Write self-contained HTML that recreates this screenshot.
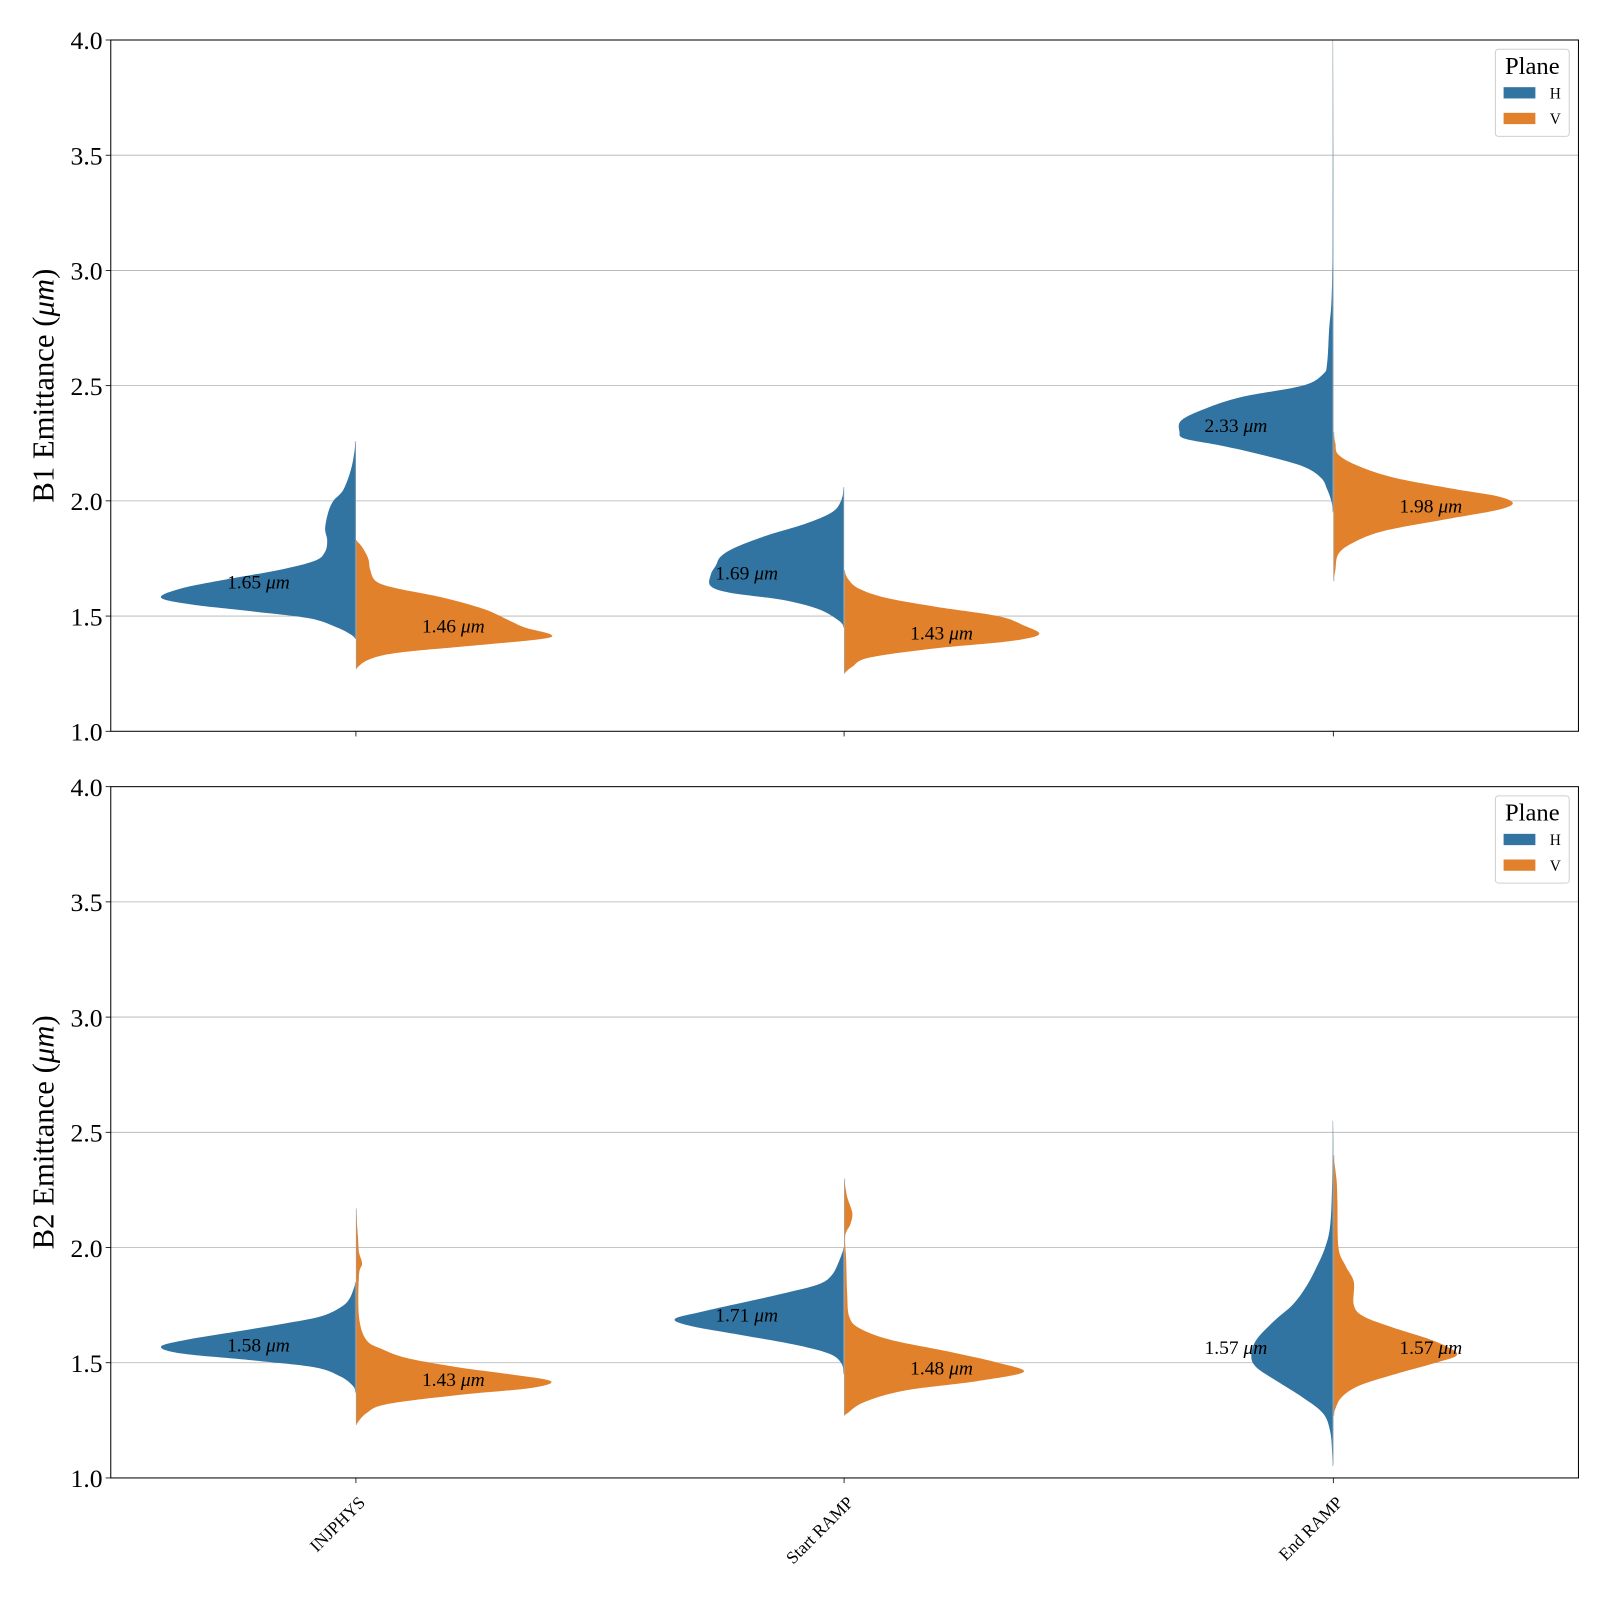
<!DOCTYPE html>
<html><head><meta charset="utf-8"><style>
html,body{margin:0;padding:0;background:#fff}
svg{display:block;font-family:"Liberation Serif","DejaVu Serif",serif}
</style></head><body>
<svg id="chart" width="1600" height="1600" viewBox="0 0 1560 1560" xmlns="http://www.w3.org/2000/svg"></svg>
<script>
const categories = ["INJPHYS", "Start RAMP", "End RAMP"];
const yTicks = [1.0, 1.5, 2.0, 2.5, 3.0, 3.5, 4.0];
const panelTitles = ["B1 Emittance", "B2 Emittance"];
// violin densities: [values], [density] per beam / category / plane
const b1H_val = [
 [2.26,2.15,2.05,2.0,1.95,1.88,1.83,1.78,1.74,1.70,1.66,1.62,1.58,1.55,1.52,1.49,1.45,1.42,1.40],
 [2.06,2.0,1.95,1.9,1.85,1.8,1.76,1.72,1.68,1.63,1.6,1.57,1.53,1.48,1.45],
 [4.0,3.2,3.0,2.85,2.75,2.6,2.55,2.5,2.45,2.4,2.35,2.3,2.27,2.24,2.2,2.15,2.1,2.05,2.0,1.95]];
const b1H_den = [
 [0,4,12,22,27,30,28,30,40,75,125,170,190,160,100,45,18,5,0],
 [0,3,12,38,75,105,120,125,130,130,110,60,25,5,0],
 [0,0.5,1,2,4,6,10,30,90,125,148,150,145,110,70,30,12,6,2,0]];
const b1V_val = [
 [1.83,1.8,1.75,1.7,1.65,1.62,1.58,1.53,1.48,1.45,1.42,1.40,1.37,1.34,1.31,1.27],
 [1.7,1.66,1.62,1.58,1.54,1.5,1.46,1.42,1.39,1.36,1.32,1.28,1.25],
 [2.3,2.25,2.2,2.15,2.1,2.05,2.02,1.99,1.96,1.92,1.87,1.82,1.77,1.7,1.65]];
const b1V_den = [
 [0,6,12,14,20,40,85,125,150,165,190,180,110,40,12,0],
 [0,4,14,40,90,150,175,190,160,90,25,8,0],
 [0,2,5,25,60,120,160,175,160,110,50,20,5,2,0]];
const b2H_val = [
 [1.85,1.78,1.74,1.7,1.67,1.64,1.6,1.57,1.54,1.51,1.48,1.44,1.4,1.37],
 [2.0,1.94,1.88,1.84,1.8,1.76,1.72,1.69,1.66,1.62,1.58,1.54,1.5,1.45],
 [2.55,2.3,2.1,2.0,1.9,1.82,1.75,1.68,1.6,1.53,1.48,1.42,1.35,1.28,1.2,1.1,1.05]];
const b2H_den = [
 [0,6,15,35,70,110,165,190,170,100,40,15,3,0],
 [0,5,12,25,60,100,140,165,150,100,50,15,3,0],
 [0,1,3,8,18,28,40,58,75,80,75,55,30,10,3,1,0]];
const b2V_val = [
 [2.17,2.05,1.98,1.93,1.88,1.7,1.6,1.56,1.52,1.48,1.45,1.42,1.39,1.36,1.32,1.28,1.23],
 [2.3,2.22,2.15,2.1,2.05,1.95,1.8,1.7,1.65,1.6,1.55,1.5,1.46,1.42,1.38,1.33,1.28,1.27],
 [2.4,2.3,2.2,2.0,1.92,1.85,1.75,1.7,1.65,1.6,1.56,1.53,1.5,1.45,1.4,1.35,1.3,1.27]];
const b2V_den = [
 [0,2,3,6,3,3,10,25,50,100,150,190,170,100,30,10,0],
 [0,3,8,6,1,2,3,5,15,45,100,150,175,130,60,20,3,0],
 [0,3,4,5,12,20,20,30,60,95,115,120,100,60,25,8,2,0]];
const b1H_med = [1.65, 1.69, 2.33];
const b1V_med = [1.46, 1.43, 1.98];
const b2H_med = [1.58, 1.71, 1.57];
const b2V_med = [1.43, 1.48, 1.57];

const NS="http://www.w3.org/2000/svg";
const svg=document.getElementById('chart');
const X0=108,X1=1539;
const catX=[347,823,1300];
const panels=[{top:39,bot:713},{top:767,bot:1441}];
function mk(tag,attrs,parent){const e=document.createElementNS(NS,tag);for(const k in attrs)e.setAttribute(k,attrs[k]);(parent||svg).appendChild(e);return e;}
function xScale(i){return catX[i];}
function wScale(d){return d;}
function spline(pts){
 let d="M"+pts[0][0]+","+pts[0][1];
 for(let i=0;i<pts.length-1;i++){
  const p0=pts[Math.max(0,i-1)],p1=pts[i],p2=pts[i+1],p3=pts[Math.min(pts.length-1,i+2)];
  const c1=[p1[0]+(p2[0]-p0[0])/6,p1[1]+(p2[1]-p0[1])/6];
  const c2=[p2[0]-(p3[0]-p1[0])/6,p2[1]-(p3[1]-p1[1])/6];
  d+=" C"+c1[0].toFixed(1)+","+c1[1].toFixed(1)+" "+c2[0].toFixed(1)+","+c2[1].toFixed(1)+" "+p2[0].toFixed(1)+","+p2[1].toFixed(1);
 }
 return d;
}
const sets=[
 {H:[b1H_val,b1H_den],V:[b1V_val,b1V_den],Hl:b1H_med,Vl:b1V_med},
 {H:[b2H_val,b2H_den],V:[b2V_val,b2V_den],Hl:b2H_med,Vl:b2V_med}];
panels.forEach((p,pi)=>{
 const yS=v=>p.bot-(v-1)*(p.bot-p.top)/3;
 const g=mk('g',{});
 
 
 yTicks.forEach(t=>{
  const y=yS(t);
  if(t>1&&t<4){const gl=mk('line',{x1:X0,x2:X1,y1:y,y2:y,stroke:'#b0b0b0','stroke-width':0.8},g);
   }
  mk('line',{x1:X0-5,x2:X0,y1:y,y2:y,stroke:'#000','stroke-width':0.8},g);
  const tx=mk('text',{x:X0-8,y:y+9,'text-anchor':'end','font-size':25},g);
  tx.textContent=t.toFixed(1);
  
 });
 catX.forEach(x=>mk('line',{x1:x,x2:x,y1:p.bot,y2:p.bot+5,stroke:'#000','stroke-width':0.8},g));
 const yl=mk('text',{transform:`translate(52,${(p.top+p.bot)/2}) rotate(-90)`,'text-anchor':'middle','font-size':30},g);
 yl.innerHTML=panelTitles[pi]+' (<tspan font-style="italic">μm</tspan>)';
 
 const s=sets[pi];
 categories.forEach((c,ci)=>{
  const cx=xScale(ci);
  [['H',-1,'#3274a1'],['V',1,'#e1812c']].forEach(([pl,dir,col])=>{
   const vals=s[pl][0][ci],den=s[pl][1][ci];
   const pts=vals.map((v,k)=>[cx+dir*wScale(den[k]),yS(v)]);
   const d=spline(pts)+" L"+cx+","+yS(vals[vals.length-1])+" L"+cx+","+yS(vals[0])+" Z";
   const path=mk('path',{d:d,fill:col,stroke:'none'},g);
   
   
   const stick=mk('line',{x1:cx+dir*0.6,x2:cx+dir*0.6,y1:yS(vals[0]),y2:yS(vals[vals.length-1]),stroke:'#9aa4ab','stroke-width':0.8,opacity:0.7},g);
   
   const med=s[pl+'l'][ci];
   const lx=cx+dir*95;
   const t=mk('text',{x:lx,y:yS(med)+7,'text-anchor':'middle','font-size':19},g);
   t.innerHTML=med.toFixed(2)+' <tspan font-style="italic">μm</tspan>';
   
  });
 });
 mk('rect',{x:X0,y:p.top,width:X1-X0,height:p.bot-p.top,fill:'none',stroke:'#000','stroke-width':1},g);
 const lg=mk('g',{},g);
 
 mk('rect',{x:1458,y:p.top+9,width:72,height:85,rx:3,fill:'#fff',stroke:'#d0d0d0','stroke-width':1},lg);
 const lt=mk('text',{x:1494,y:p.top+33,'text-anchor':'middle','font-size':24},lg);lt.textContent='Plane';
 [['H','#3274a1'],['V','#e1812c']].forEach(([n,c],k)=>{
  const r=mk('rect',{x:1466,y:p.top+46+k*25,width:31,height:11,fill:c},lg);
  
  const tt=mk('text',{x:1511,y:p.top+57+k*25,'font-size':15},lg);tt.textContent=n;
 });
});
categories.forEach((c,ci)=>{
 const t=mk('text',{transform:`translate(${xScale(ci)+10},1466) rotate(-45)`,'text-anchor':'end','font-size':17});
 t.textContent=c;
 
});
</script>
</body></html>
